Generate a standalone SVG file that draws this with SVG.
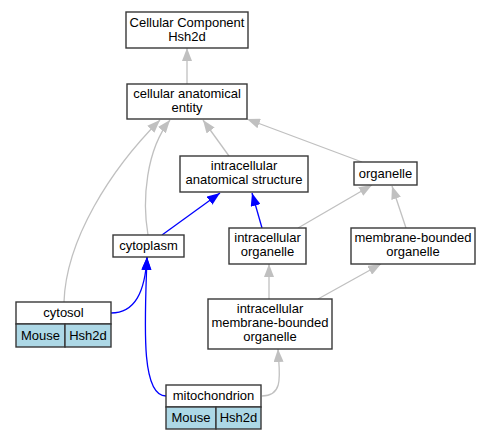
<svg xmlns="http://www.w3.org/2000/svg" width="489" height="440" viewBox="0 0 489 440">
<style>
text{font-family:"Liberation Sans",Arial,sans-serif;font-size:13px;text-anchor:middle;fill:#000}
.box{fill:#fff;stroke:#383838;stroke-width:1.4}
.cell{fill:#add8e6;stroke:#383838;stroke-width:1.4}
.g{fill:none;stroke:#c0c0c0;stroke-width:1.3}
.b{fill:none;stroke:#0000ff;stroke-width:1.3}
</style>
<defs>
<marker id="ag" viewBox="0 0 13 10" refX="13" refY="5" markerWidth="13" markerHeight="10" markerUnits="userSpaceOnUse" orient="auto"><path d="M0,0 L13,5 L0,10 Z" fill="#c0c0c0"/></marker>
<marker id="ab" viewBox="0 0 13 10" refX="13" refY="5" markerWidth="13" markerHeight="10" markerUnits="userSpaceOnUse" orient="auto"><path d="M0,0 L13,5 L0,10 Z" fill="#0000ff"/></marker>
</defs>
<g id="connectors">
<path class="g" marker-end="url(#ag)" d="M187,84 L187,48"/>
<path class="g" marker-end="url(#ag)" d="M229,156 L203,120"/>
<path class="g" marker-end="url(#ag)" d="M362,162 L247,119"/>
<path class="g" marker-end="url(#ag)" d="M148,235 C142,200 146,150 170,120"/>
<path class="g" marker-end="url(#ag)" d="M64,302 C66,240 110,170 160,120"/>
<path class="b" marker-end="url(#ab)" d="M162,235 L220,193"/>
<path class="b" marker-end="url(#ab)" d="M262,228 L252,193"/>
<path class="g" marker-end="url(#ag)" d="M298,228 L372,185"/>
<path class="g" marker-end="url(#ag)" d="M406,228 L392,186"/>
<path class="g" marker-end="url(#ag)" d="M269,299 L269,264"/>
<path class="g" marker-end="url(#ag)" d="M318,299 L381,264"/>
<path class="b" marker-end="url(#ab)" d="M111,313 C135,313 145,292 147,257"/>
<path class="b" marker-end="url(#ab)" d="M166,396 C140,396 145,320 147,257"/>
<path class="g" marker-end="url(#ag)" d="M262,396 C285,396 279,372 278,349"/>
</g>
<g id="cc">
<rect class="box" x="126" y="12" width="122" height="36"/>
<text x="187" y="27">Cellular Component</text>
<text x="187" y="41">Hsh2d</text>
</g>
<g id="cae">
<rect class="box" x="127" y="84" width="120" height="35"/>
<text x="187" y="98">cellular anatomical</text>
<text x="187" y="112">entity</text>
</g>
<g id="ias">
<rect class="box" x="180" y="156" width="128" height="36"/>
<text x="244" y="170">intracellular</text>
<text x="244" y="184">anatomical structure</text>
</g>
<g id="organelle">
<rect class="box" x="354" y="162" width="63" height="23"/>
<text x="385.5" y="178">organelle</text>
</g>
<g id="cytoplasm">
<rect class="box" x="113" y="235" width="71" height="22"/>
<text x="148.5" y="250">cytoplasm</text>
</g>
<g id="io">
<rect class="box" x="229" y="228" width="77" height="36"/>
<text x="267.5" y="242">intracellular</text>
<text x="267.5" y="256">organelle</text>
</g>
<g id="mbo">
<rect class="box" x="351" y="228" width="124" height="36"/>
<text x="413" y="242">membrane-bounded</text>
<text x="413" y="256">organelle</text>
</g>
<g id="imbo">
<rect class="box" x="208" y="299" width="124" height="50"/>
<text x="270" y="313">intracellular</text>
<text x="270" y="327">membrane-bounded</text>
<text x="270" y="341">organelle</text>
</g>
<g id="cytosol">
<rect class="box" x="16" y="302" width="95" height="22"/>
<rect class="cell" x="16" y="324" width="49" height="23"/>
<rect class="cell" x="65" y="324" width="46" height="23"/>
<text x="63.5" y="317">cytosol</text>
<text x="40.5" y="340">Mouse</text>
<text x="88" y="340">Hsh2d</text>
</g>
<g id="mitochondrion">
<rect class="box" x="166" y="385" width="95" height="22"/>
<rect class="cell" x="166" y="407" width="50" height="22"/>
<rect class="cell" x="216" y="407" width="45" height="22"/>
<text x="213.5" y="400">mitochondrion</text>
<text x="191" y="422">Mouse</text>
<text x="238.5" y="422">Hsh2d</text>
</g>
</svg>
